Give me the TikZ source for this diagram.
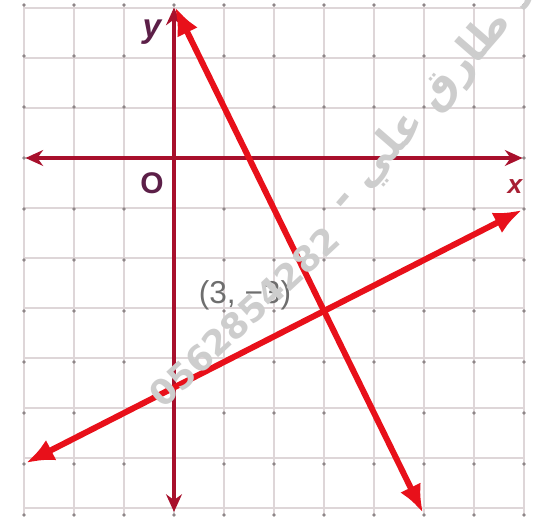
\documentclass[tikz,border=0pt]{standalone}
\usepackage{fontspec}
\setmainfont{Liberation Sans}
\newfontfamily\arabicfont[Script=Arabic]{DejaVu Sans}
\newfontfamily\wmdigits{DejaVu Sans Bold}
\TeXXeTstate=1
\usetikzlibrary{arrows.meta}
\definecolor{gridc}{HTML}{DED6D8}
\definecolor{dotc}{HTML}{8E8688}
\definecolor{axisc}{HTML}{A8102C}
\definecolor{linec}{HTML}{E8101A}
\definecolor{labc}{HTML}{5C1F48}
\definecolor{xlabc}{HTML}{A82034}
\definecolor{ptc}{HTML}{6E6E6E}
\definecolor{wmc}{HTML}{CDCDCD}
\tikzset{
  gridline/.style={draw=gridc, line width=0.8pt},
  axisline/.style={draw=axisc, line width=1.9pt, {Stealth[length=10pt,width=9pt]}-{Stealth[length=10pt,width=9pt]}},
  redline/.style={draw=linec, line width=3.4pt, {Latex[length=16pt,width=13pt]}-{Latex[length=16pt,width=13pt]}},
  lab/.style={inner sep=0pt},
  wmark/.style={text=wmc, inner sep=0pt}
}
\begin{document}
\begin{tikzpicture}[x=1cm,y=1.02cm]
\useasboundingbox (-3.48,3.098) rectangle (7.18,-7.078);
\clip (-3.48,3.098) rectangle (7.18,-7.078);
\fill[white] (-3.48,3.098) rectangle (7.18,-7.078);
% grid
\draw[gridline] (-3,-7) grid (7,3);
\foreach \i in {-3,...,7} \foreach \j in {-7,...,3} \fill[dotc] (\i,\j) circle (1.1pt);
% axes
\coordinate (xl) at (-2.97,0);
\coordinate (xr) at (6.97,0);
\coordinate (yt) at (0,2.95);
\coordinate (yb) at (0,-6.94);
\draw[axisline] (xl) -- (xr);
\draw[axisline] (yt) -- (yb);
% lines
\coordinate (a1) at (0.02,2.96);
\coordinate (a2) at (4.98,-6.96);
\coordinate (b1) at (-2.96,-5.98);
\coordinate (b2) at (6.96,-1.02);
\draw[redline] (a1) -- (a2);
\draw[redline] (b1) -- (b2);
% labels
\node[lab, text=labc, font=\fontsize{19}{19}\selectfont\bfseries\itshape] (ylab) at (-0.44,2.47) {y};
\node[lab, text=labc, font=\fontsize{17}{17}\selectfont\bfseries] (olab) at (-0.44,-0.49) {O};
\node[lab, text=xlabc, font=\fontsize{15}{15}\selectfont\bfseries\itshape] (xlab) at (6.82,-0.55) {x};
\node[lab, text=ptc, font=\fontsize{18}{18}\selectfont] (pt) at (1.42,-2.69) {(3, −3)};
% watermark
\node[wmark, rotate=43, font=\wmdigits\fontsize{20}{20}\selectfont] (num) at (1.4,-3.12) {0562854282};
\node[wmark, rotate=49, anchor=west, font=\arabicfont\bfseries\fontsize{24}{24}\selectfont] (ar) at ([shift={(0.02,0.57)}]num.east) {\beginR أستاذ طارق علي -\endR};
\end{tikzpicture}
\end{document}
